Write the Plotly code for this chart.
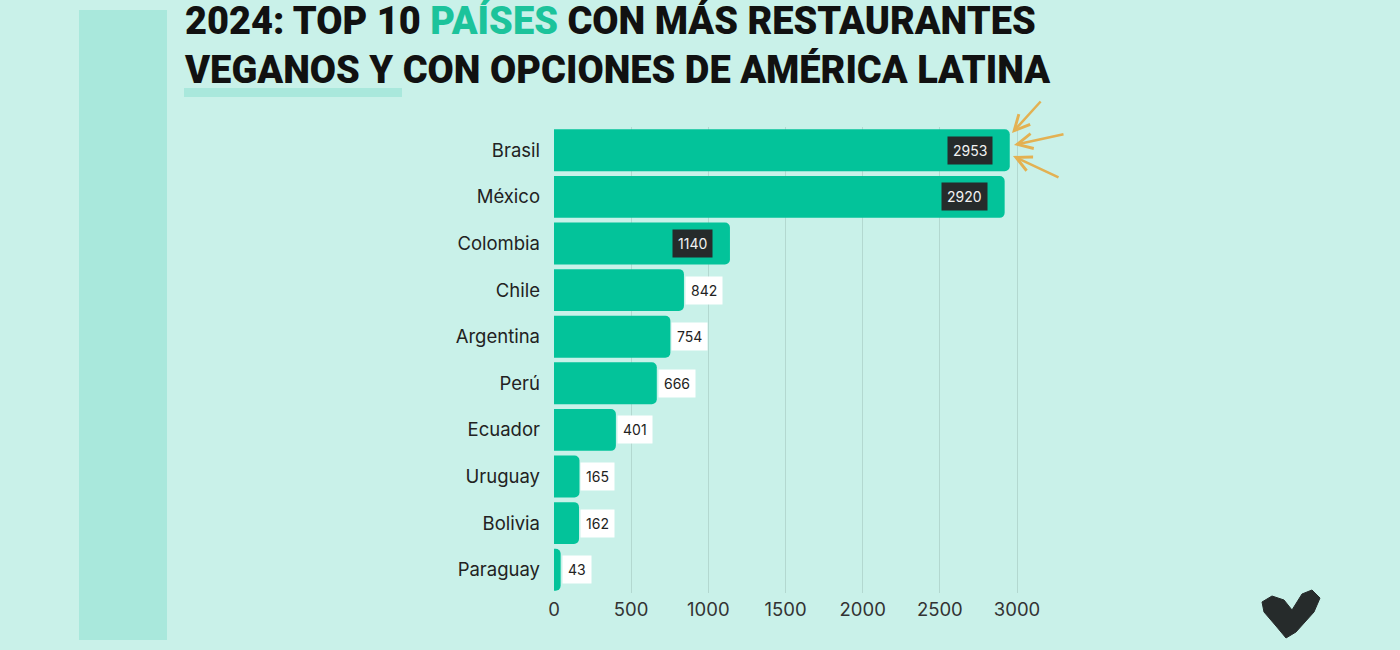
import plotly.graph_objects as go

countries = ["Brasil", "México", "Colombia", "Chile", "Argentina", "Perú", "Ecuador", "Uruguay", "Bolivia", "Paraguay"]
values = [2953, 2920, 1140, 842, 754, 666, 401, 165, 162, 43]
x_ticks = [0, 500, 1000, 1500, 2000, 2500, 3000]

W, H = 1400, 650
L, R, T, B = 554, 344, 127, 57
PW, PH = W - L - R, H - T - B


def px(X):
    return (X - L) / PW


def py(Y):
    return (H - B - Y) / PH


BG = "#c9f1e9"
BAR = "#03c39a"
STRIPE = "#a9e8dc"

fig = go.Figure()
fig.add_trace(go.Bar(
    x=values, y=countries, orientation="h",
    marker=dict(color=BAR, line=dict(width=0), cornerradius=5),
    width=0.9, hoverinfo="skip",
))

annotations = []
for c, v in zip(countries, values):
    if v >= 1000:
        annotations.append(dict(
            x=v, y=c, xref="x", yref="y", text=str(v), showarrow=False,
            xanchor="right", xshift=-17, bgcolor="#262b2b",
            font=dict(family="Inter, Noto Sans, sans-serif", size=14, color="#f2f2f2"),
            borderpad=5,
        ))
    else:
        annotations.append(dict(
            x=v, y=c, xref="x", yref="y", text=str(v), showarrow=False,
            xanchor="left", xshift=1, bgcolor="#ffffff",
            font=dict(family="Inter, Noto Sans, sans-serif", size=14, color="#222222"),
            borderpad=5,
        ))

# title (single block, two lines)
title_font = dict(family="Roboto, DejaVu Sans, sans-serif", size=38, color="#111111", weight=900)
annotations.append(dict(
    x=px(182), y=py(46), xref="paper", yref="paper", xanchor="left", yanchor="middle",
    align="left", showarrow=False, font=title_font,
    text="2024: TOP 10 <span style='color:#1cc39b'>PAÍSES</span> CON MÁS RESTAURANTES<br>VEGANOS Y CON OPCIONES DE AMÉRICA LATINA",
))

# arrows pointing at the top bar
arrow_col = "#e3b152"
for (tx, ty, ax, ay) in [(1012, 133, 1042, 100), (1014, 145, 1065, 134), (1013, 156, 1060, 178)]:
    annotations.append(dict(
        x=px(tx), y=py(ty), xref="paper", yref="paper",
        ax=ax - tx, ay=ay - ty, axref="pixel", ayref="pixel",
        showarrow=True, arrowhead=5, arrowsize=1.2, arrowwidth=2.5, arrowcolor=arrow_col, text="",
    ))

shapes = [
    dict(type="rect", xref="paper", yref="paper", x0=px(79), x1=px(167), y0=py(640), y1=py(10),
         fillcolor=STRIPE, line=dict(width=0), layer="below"),
    dict(type="rect", xref="paper", yref="paper", x0=px(184), x1=px(402), y0=py(97), y1=py(88),
         fillcolor=STRIPE, line=dict(width=0), layer="below"),
]

# heart / check logo
pts = [(1262, 602), (1272, 596), (1284, 600), (1292, 610), (1302, 594), (1312, 590), (1320, 598),
       (1314, 612), (1296, 632), (1286, 638), (1276, 626), (1264, 612)]
path = "M " + " L ".join(f"{px(a):.5f},{py(b):.5f}" for a, b in pts) + " Z"
shapes.append(dict(type="path", xref="paper", yref="paper", path=path,
                   fillcolor="#262b2b", line=dict(color="#262b2b", width=1)))

fig.update_layout(
    width=W, height=H,
    margin=dict(l=L, r=R, t=T, b=B),
    paper_bgcolor=BG, plot_bgcolor=BG,
    showlegend=False,
    annotations=annotations,
    shapes=shapes,
    xaxis=dict(range=[0, PW / (463 / 3000)], tickvals=x_ticks, showgrid=True,
               gridcolor="#b3d8d0", gridwidth=1, zeroline=False, showline=False,
               tickfont=dict(family="Inter, Noto Sans, sans-serif", size=18.5, color="#333333"),
               ticks="", ticklabelstandoff=3, fixedrange=True),
    yaxis=dict(categoryorder="array", categoryarray=countries[::-1], showgrid=False,
               zeroline=False, showline=False, ticks="", ticklabelstandoff=13,
               tickfont=dict(family="Inter, Noto Sans, sans-serif", size=18.5, color="#222222"),
               fixedrange=True),
    bargap=0.1,
)

fig.write_html(
    "out.html",
    config={"displayModeBar": False},
    post_script="document.body.style.margin='0';document.body.style.background='%s';" % BG,
)
